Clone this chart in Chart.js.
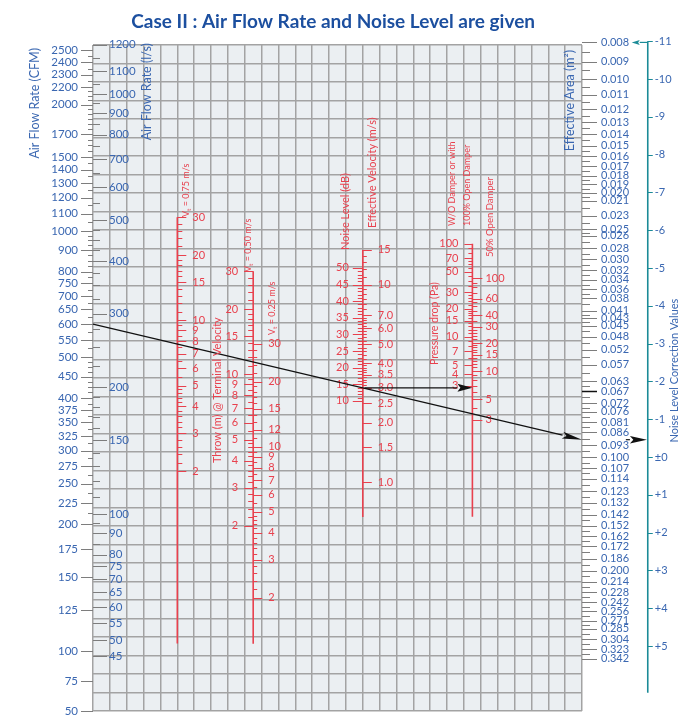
<!DOCTYPE html>
<html lang="en">
<head>
<meta charset="utf-8">
<title>Case II : Air Flow Rate and Noise Level are given</title>
<script src="https://cdn.jsdelivr.net/npm/chart.js@4.4.1/dist/chart.umd.min.js"></script>
<style>
  html, body { margin: 0; background: #ffffff; }
  #box { width: 700px; height: 720px; }
</style>
</head>
<body>
<div id="box"><canvas id="nomogram" width="700" height="720"></canvas></div>
<script>
// scale values
const cfmLabels = [2500, 2400, 2300, 2200, 2000, 1700, 1500, 1400, 1300, 1200, 1100, 1000, 900, 800, 750, 700, 650, 600, 550, 500, 450, 400, 375, 350, 325, 300, 275, 250, 225, 200, 175, 150, 125, 100, 75, 50];
const litreLabels = [1200, 1100, 1000, 900, 800, 700, 600, 500, 400, 300, 200, 150, 100, 90, 80, 75, 70, 65, 60, 55, 50, 45];
const throw075Labels = [30, 20, 15, 10, 9, 8, 7, 6, 5, 4, 3, 2];
const throw050Labels = [30, 20, 15, 10, 9, 8, 7, 6, 5, 4, 3, 2];
const throw025Labels = [30, 20, 15, 12, 10, 9, 8, 7, 6, 5, 4, 3, 2];
const noiseDbLabels = [50, 45, 40, 35, 30, 25, 20, 15, 10];
const velocityLabels = [15, 10, 7, 6, 5, 4, 3.5, 3, 2.5, 2, 1.5, 1];
const pressureFullLabels = [100, 70, 50, 30, 20, 15, 10, 7, 5, 4, 3];
const pressureHalfLabels = [100, 60, 40, 30, 20, 15, 10, 5, 3];
const areaLabels = [0.008, 0.009, 0.010, 0.011, 0.012, 0.013, 0.014, 0.015, 0.016, 0.017, 0.018, 0.019, 0.020, 0.021, 0.023, 0.025, 0.026, 0.028, 0.030, 0.032, 0.034, 0.036, 0.038, 0.041, 0.043, 0.045, 0.048, 0.052, 0.057, 0.063, 0.067, 0.072, 0.076, 0.081, 0.086, 0.093, 0.100, 0.107, 0.114, 0.123, 0.132, 0.142, 0.152, 0.162, 0.172, 0.186, 0.200, 0.214, 0.228, 0.242, 0.256, 0.271, 0.285, 0.304, 0.323, 0.342];
const correctionLabels = [-11, -10, -9, -8, -7, -6, -5, -4, -3, -2, -1, 0, 1, 2, 3, 4, 5];

// minor tick steps between the labelled values: [from, to, step]
const cfmMinorSteps = [[1000, 2500, 50], [500, 1000, 25], [200, 500, 12.5]];
const litreMinorSteps = [[500, 1200, 50], [200, 500, 25], [100, 200, 10], [45, 100, 5]];
const throwMinorSteps = [[20, 30, 2], [10, 20, 1], [5, 10, 0.5], [2, 5, 0.2]];
const noiseMinorSteps = [[10, 50, 1]];
const velocityMinorSteps = [[10, 15, 1], [7, 10, 0.5], [4, 7, 0.2], [3, 4, 0.1]];
const pressureFullMinorSteps = [[70, 100, 10], [50, 70, 5], [30, 50, 5], [20, 30, 2], [10, 20, 1], [3, 10, 1]];
const pressureHalfMinorSteps = [[60, 100, 10], [40, 60, 5], [30, 40, 5], [20, 30, 2], [10, 20, 1], [3, 10, 1]];

// the worked example drawn over the chart
const readingFlowCfm = 600;
const readingArea = 0.09;
const readingVelocity = 3.0;
const markedArea = 0.067;

const COLS = 29;
const ROWS = 36;
const LPS_PER_CFM = 0.4719;
const blue = "#3a67b1";
const red = "#e8414e";
const teal = "#1b8b97";
const tickGray = "#7d7d7d";

function minorTicks(majors, steps) {
  const out = [];
  steps.forEach(([from, to, step]) => {
    const n = Math.round((to - from) / step);
    for (let i = 1; i < n; i++) {
      const v = +(from + i * step).toFixed(4);
      if (!majors.some((m) => Math.abs(m - v) < 1e-6)) out.push(v);
    }
  });
  return out;
}

function midTicks(majors) {
  const out = [];
  for (let i = 1; i < majors.length; i++) out.push(Math.sqrt(majors[i - 1] * majors[i]));
  return out;
}

// axis range so that `value` sits on grid row `row` with `perDecade` rows per decade
function logRange(value, row, perDecade, reverse) {
  const span = ROWS / perDecade;
  const lo = reverse
    ? Math.log10(value) - row / perDecade
    : Math.log10(value) + row / perDecade - span;
  return { min: 10 ** lo, max: 10 ** (lo + span) };
}

function linRange(value, row, perUnit, reverse) {
  const span = ROWS / perUnit;
  const lo = reverse ? value - row / perUnit : value + row / perUnit - span;
  return { min: lo, max: lo + span };
}

function scaled(range, k) {
  return { min: range.min * k, max: range.max * k };
}

// log scale whose ends are squeezed linearly: below `knee` down to `floor` at the bottom edge,
// above `kneeTop` up to `ceiling` at the top edge
class KneeLogScale extends Chart.LogarithmicScale {
  static id = "kneeLog";
  static defaults = Chart.LogarithmicScale.defaults;
  getPixelForValue(value) {
    const { knee, floor, kneeTop, ceiling } = this.options;
    if (knee && value < knee) {
      const p = super.getPixelForValue(knee);
      return p + ((knee - value) / (knee - floor)) * (this.bottom - p);
    }
    if (kneeTop && value > kneeTop) {
      const p = super.getPixelForValue(kneeTop);
      return p + ((value - kneeTop) / (ceiling - kneeTop)) * (this.top - p);
    }
    return super.getPixelForValue(value);
  }
}
Chart.register(KneeLogScale);

function gridAxis(count, reverse) {
  return {
    type: "linear",
    min: 0,
    max: count,
    reverse: reverse,
    border: { display: false },
    grid: { color: "#a3a3a3", lineWidth: 1.5, drawTicks: false },
    ticks: { display: false, stepSize: 1, maxTicksLimit: 100, autoSkip: false },
  };
}

function hidden(type, range, extra) {
  return Object.assign({ type: type, axis: "y", position: "left", display: false }, range, extra || {});
}

const cfmRange = logRange(1000, 10.05, 22.7);
const cfmKnees = { knee: 100, floor: 50, kneeTop: 2200, ceiling: 2540 };

const scaleMarks = [
  { axis: "cfm", col: 0, side: "left", majors: cfmLabels, minors: minorTicks(cfmLabels, cfmMinorSteps), majorLen: 12, minorLen: 5, gap: 15, color: tickGray, text: blue, font: "11.5px Lato" },
  { axis: "litre", col: 0, side: "right", majors: litreLabels, minors: minorTicks(litreLabels, litreMinorSteps), majorLen: 14, minorLen: 7, gap: 16, color: tickGray, text: blue, font: "11.5px Lato" },
  { axis: "throw075", col: 5, side: "right", majors: throw075Labels, minors: minorTicks(throw075Labels, throwMinorSteps), majorLen: 9, minorLen: 5, gap: 15, color: red, text: red, font: "11px Lato", extent: [30, 0.32] },
  { axis: "throw050", col: 9.5, side: "left", majors: throw050Labels, minors: minorTicks(throw050Labels, throwMinorSteps), majorLen: 9, minorLen: 5, gap: 15, color: red, text: red, font: "11px Lato", extent: [30, 0.57] },
  { axis: "throw025", col: 9.5, side: "right", majors: throw025Labels, minors: minorTicks(throw025Labels, throwMinorSteps), majorLen: 9, minorLen: 4, gap: 15, color: red, text: red, font: "11px Lato" },
  { axis: "noiseDb", col: 16, side: "left", majors: noiseDbLabels, minors: minorTicks(noiseDbLabels, noiseMinorSteps), majorLen: 10, minorLen: 5, gap: 14, color: red, text: red, font: "11px Lato" },
  { axis: "velocity", col: 16, side: "right", majors: velocityLabels, minors: minorTicks(velocityLabels, velocityMinorSteps), majorLen: 9, minorLen: 4, gap: 15, color: red, text: red, font: "11px Lato", extent: [15, 0.665], format: (v) => (v >= 10 ? String(v) : v.toFixed(1)) },
  { axis: "pressureFull", col: 22.5, side: "left", majors: pressureFullLabels, minors: minorTicks(pressureFullLabels, pressureFullMinorSteps), majorLen: 8, minorLen: 4, gap: 14, color: red, text: red, font: "11px Lato", extent: [100, 0.118] },
  { axis: "pressureHalf", col: 22.5, side: "right", majors: pressureHalfLabels, minors: minorTicks(pressureHalfLabels, pressureHalfMinorSteps), majorLen: 10, minorLen: 5, gap: 13, color: red, text: red, font: "11px Lato" },
  { axis: "area", col: 29, side: "right", majors: areaLabels, minors: midTicks(areaLabels), majorLen: 15, minorLen: 8, gap: 19, color: tickGray, text: blue, font: "11px Lato", format: (v) => v.toFixed(3) },
  { axis: "correction", col: 32.9, side: "right", majors: correctionLabels, minors: [], majorLen: 5, minorLen: 0, gap: 7, color: teal, text: blue, font: "11px Lato", extent: [-11, 6.24], format: (v) => (v === 0 ? "\u00b10" : v > 0 ? "+" + v : String(v)) },
];

const verticalTexts = [
  { text: "Air Flow Rate (CFM)", col: -3.44, row: 0.16, anchor: "top", font: "12.5px Lato", color: blue },
  { text: "Air Flow Rate (l/s)", col: 3.2, row: -0.1, anchor: "top", font: "12.5px Lato", color: blue },
  { text: "Effective Area (m\u00b2)", col: 28.29, row: 0.27, anchor: "top", font: "12.5px Lato", color: blue },
  { text: "Noise Level Correction Values", col: 34.5, row: 17.6, anchor: "center", font: "11px Lato", color: blue },
  { text: "Throw (m) @ Terminal Velocity", col: 7.41, row: 22.6, anchor: "bottom", font: "11px Lato", color: red },
  { text: "Noise Level (dB)", col: 14.95, row: 11.08, anchor: "bottom", font: "11px Lato", color: red },
  { text: "Effective Velocity (m/s)", col: 16.6, row: 9.89, anchor: "bottom", font: "11px Lato", color: red },
  { text: "Pressure drop (Pa)", col: 20.28, row: 17.3, anchor: "bottom", font: "10.5px Lato", color: red },
  { text: "W/O Damper or with", col: 21.29, row: 9.78, anchor: "bottom", font: "9px Lato", color: red },
  { text: "100% Open Damper", col: 22.18, row: 9.78, anchor: "bottom", font: "9px Lato", color: red },
  { text: "50% Open Damper", col: 23.54, row: 11.46, anchor: "bottom", font: "9.5px Lato", color: red },
];

const terminalVelocityTexts = [
  { value: "0.75", col: 5.52, row: 9.3 },
  { value: "0.50", col: 9.19, row: 12.27 },
  { value: "0.25", col: 10.62, row: 15.68 },
];

function drawScale(chart, s) {
  const ctx = chart.ctx;
  const ys = chart.scales[s.axis];
  const x0 = chart.scales.x.getPixelForValue(s.col);
  const dir = s.side === "left" ? -1 : 1;
  ctx.save();
  if (s.extent) {
    ctx.strokeStyle = s.color;
    ctx.lineWidth = 1.6;
    ctx.beginPath();
    ctx.moveTo(x0, ys.getPixelForValue(s.extent[0]));
    ctx.lineTo(x0, ys.getPixelForValue(s.extent[1]));
    ctx.stroke();
  }
  ctx.strokeStyle = s.color;
  ctx.lineWidth = 1.2;
  ctx.beginPath();
  s.minors.forEach((v) => {
    const y = Math.round(ys.getPixelForValue(v)) + 0.5;
    ctx.moveTo(x0, y);
    ctx.lineTo(x0 + dir * s.minorLen, y);
  });
  s.majors.forEach((v) => {
    const y = Math.round(ys.getPixelForValue(v)) + 0.5;
    ctx.moveTo(x0, y);
    ctx.lineTo(x0 + dir * s.majorLen, y);
  });
  ctx.stroke();
  ctx.fillStyle = s.text;
  ctx.font = s.font;
  ctx.textBaseline = "middle";
  ctx.textAlign = dir < 0 ? "right" : "left";
  s.majors.forEach((v) => {
    const label = s.format ? s.format(v) : String(v);
    ctx.fillText(label, x0 + dir * s.gap, ys.getPixelForValue(v));
  });
  ctx.restore();
}

function verticalText(ctx, parts, x, y, anchor) {
  ctx.save();
  ctx.translate(x, y);
  ctx.rotate(-Math.PI / 2);
  ctx.textBaseline = "middle";
  ctx.textAlign = "left";
  let total = 0;
  parts.forEach((p) => {
    ctx.font = p.font;
    p.w = ctx.measureText(p.text).width;
    total += p.w;
  });
  let pos = anchor === "bottom" ? 0 : anchor === "top" ? -total : -total / 2;
  parts.forEach((p) => {
    ctx.font = p.font;
    ctx.fillStyle = p.color;
    ctx.fillText(p.text, pos, p.dy || 0);
    pos += p.w;
  });
  ctx.restore();
}

function arrowLine(ctx, x1, y1, x2, y2, head, half, color, width) {
  const a = Math.atan2(y2 - y1, x2 - x1);
  const bx = x2 - head * Math.cos(a);
  const by = y2 - head * Math.sin(a);
  ctx.save();
  ctx.strokeStyle = color;
  ctx.fillStyle = color;
  ctx.lineWidth = width;
  ctx.beginPath();
  ctx.moveTo(x1, y1);
  ctx.lineTo(bx, by);
  ctx.stroke();
  ctx.beginPath();
  ctx.moveTo(x2, y2);
  ctx.lineTo(bx - half * Math.sin(a), by + half * Math.cos(a));
  ctx.lineTo(x2 - head * 0.8 * Math.cos(a), y2 - head * 0.8 * Math.sin(a));
  ctx.lineTo(bx + half * Math.sin(a), by - half * Math.cos(a));
  ctx.closePath();
  ctx.fill();
  ctx.restore();
}

const nomogram = {
  id: "nomogram",
  beforeDraw(chart) {
    const { ctx, chartArea: a } = chart;
    ctx.save();
    ctx.fillStyle = "#ebeff2";
    ctx.fillRect(a.left, a.top, a.right - a.left, a.bottom - a.top);
    ctx.restore();
  },
  afterDraw(chart) {
    const ctx = chart.ctx;
    const X = (c) => chart.scales.x.getPixelForValue(c);
    const Y = (r) => chart.scales.y.getPixelForValue(r);

    scaleMarks.forEach((s) => drawScale(chart, s));

    // black tick on the effective area scale
    const yMark = Math.round(chart.scales.area.getPixelForValue(markedArea)) + 0.5;
    ctx.save();
    ctx.strokeStyle = "#111";
    ctx.lineWidth = 1.5;
    ctx.beginPath();
    ctx.moveTo(X(29), yMark);
    ctx.lineTo(X(29) + 15, yMark);
    ctx.stroke();
    ctx.restore();

    // reading line: air flow rate -> effective area, then on to the correction scale
    const yL = chart.scales.cfm.getPixelForValue(readingFlowCfm);
    const yR = chart.scales.area.getPixelForValue(readingArea);
    arrowLine(ctx, X(0), yL, X(COLS), yR, 20, 3.5, "#111", 1.2);
    arrowLine(ctx, X(31.6), yR, X(32.85), yR, 17, 3.8, "#111", 1.2);

    // effective velocity -> pressure drop
    const yV = chart.scales.velocity.getPixelForValue(readingVelocity);
    arrowLine(ctx, X(16.1), yV, X(22.5), yV, 15, 4, "#111", 1.2);

    // -11 pointer towards the smallest area
    const yC = chart.scales.area.getPixelForValue(areaLabels[0]);
    arrowLine(ctx, X(32.9), yC, X(31.95), yC, 8, 2.5, teal, 1.2);

    verticalTexts.forEach((t) =>
      verticalText(ctx, [{ text: t.text, font: t.font, color: t.color }], X(t.col), Y(t.row), t.anchor)
    );
    terminalVelocityTexts.forEach((t) =>
      verticalText(
        ctx,
        [
          { text: "V", font: "9px Lato", color: red },
          { text: "t", font: "6.5px Lato", color: red, dy: 2.5 },
          { text: " = " + t.value + " m/s", font: "9px Lato", color: red },
        ],
        X(t.col),
        Y(t.row),
        "bottom"
      )
    );

    // title, fitted to the width it has in the original
    const title = "Case II : Air Flow Rate and Noise Level are given";
    const width = X(24.5) - X(0);
    ctx.save();
    let size = 19;
    ctx.font = "bold " + size + "px Lato";
    const w = ctx.measureText(title).width;
    if (w > width) size = (size * width) / w;
    ctx.font = "bold " + size.toFixed(1) + "px Lato";
    ctx.fillStyle = "#1c4f9f";
    ctx.textAlign = "center";
    ctx.textBaseline = "middle";
    ctx.fillText(title, X(14.24), Y(-1.25));
    ctx.restore();
  },
};

new Chart(document.getElementById("nomogram"), {
  type: "scatter",
  data: { datasets: [] },
  options: {
    responsive: false,
    animation: false,
    devicePixelRatio: 1,
    events: [],
    layout: { padding: { left: 93, top: 45, right: 118, bottom: 9 } },
    plugins: { legend: { display: false }, tooltip: { enabled: false } },
    scales: {
      x: gridAxis(COLS, false),
      y: gridAxis(ROWS, true),
      cfm: hidden("kneeLog", cfmRange, cfmKnees),
      litre: hidden("kneeLog", scaled(cfmRange, LPS_PER_CFM), {
        knee: cfmKnees.knee * LPS_PER_CFM,
        floor: cfmKnees.floor * LPS_PER_CFM,
        kneeTop: cfmKnees.kneeTop * LPS_PER_CFM,
        ceiling: cfmKnees.ceiling * LPS_PER_CFM,
      }),
      throw075: hidden("logarithmic", logRange(10, 14.89, 11.68)),
      throw050: hidden("logarithmic", logRange(10, 17.81, 11.7)),
      throw025: hidden("logarithmic", logRange(10, 21.92, 11.8)),
      noiseDb: hidden("linear", linRange(50, 12.05, 0.1797)),
      velocity: hidden("logarithmic", logRange(1, 23.62, 10.665)),
      pressureFull: hidden("logarithmic", logRange(10, 15.78, 5.043)),
      pressureHalf: hidden("logarithmic", logRange(10, 17.63, 5.016)),
      area: hidden("logarithmic", logRange(0.1, 22.27, 20.43, true), { reverse: true }),
      correction: hidden("linear", linRange(0, 22.27, 2.043, true), { reverse: true }),
    },
  },
  plugins: [nomogram],
});
</script>
</body>
</html>
